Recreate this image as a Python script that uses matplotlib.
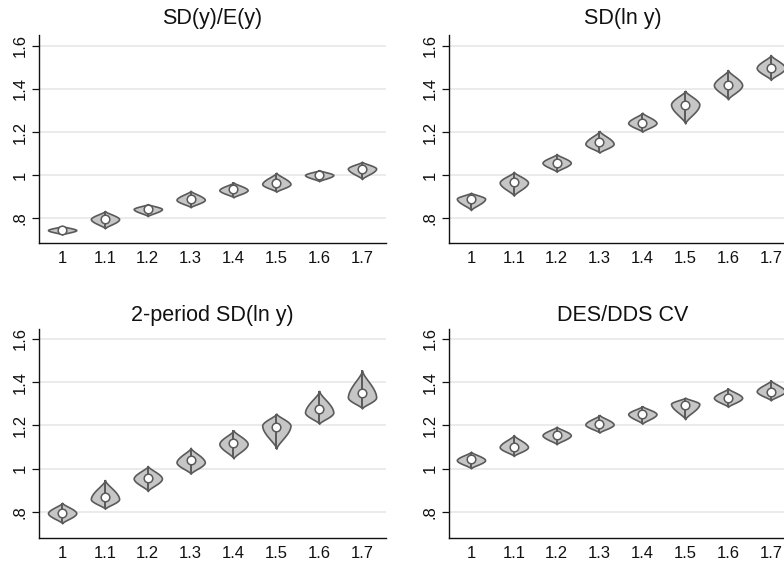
import numpy as np
import matplotlib
matplotlib.use("Agg")
import matplotlib.pyplot as plt

plt.rcParams['font.family'] = ['Liberation Sans', 'DejaVu Sans']

groups = [1.0, 1.1, 1.2, 1.3, 1.4, 1.5, 1.6, 1.7]
tick_labels = ['1', '1.1', '1.2', '1.3', '1.4', '1.5', '1.6', '1.7']
titles = ['SD(y)/E(y)', 'SD(ln y)', '2-period SD(ln y)', 'DES/DDS CV']

# medians, lower tail end, upper tail end, widest point
med_1 = [0.744, 0.795, 0.842, 0.888, 0.933, 0.961, 1.001, 1.028]
lo_1 = [0.724, 0.752, 0.809, 0.850, 0.896, 0.922, 0.971, 0.981]
hi_1 = [0.763, 0.833, 0.865, 0.927, 0.966, 1.011, 1.023, 1.062]
peak_1 = [0.744, 0.795, 0.842, 0.885, 0.930, 0.958, 1.000, 1.030]

med_2 = [0.887, 0.969, 1.057, 1.152, 1.242, 1.326, 1.419, 1.499]
lo_2 = [0.837, 0.904, 1.015, 1.104, 1.201, 1.240, 1.352, 1.442]
hi_2 = [0.918, 1.015, 1.098, 1.205, 1.290, 1.392, 1.488, 1.558]
peak_2 = [0.890, 0.965, 1.057, 1.145, 1.242, 1.328, 1.418, 1.498]

med_3 = [0.797, 0.869, 0.959, 1.040, 1.118, 1.193, 1.278, 1.352]
lo_3 = [0.748, 0.815, 0.897, 0.977, 1.048, 1.093, 1.208, 1.279]
hi_3 = [0.843, 0.948, 1.013, 1.097, 1.178, 1.255, 1.360, 1.455]
peak_3 = [0.795, 0.860, 0.955, 1.030, 1.115, 1.200, 1.260, 1.330]

med_4 = [1.044, 1.102, 1.156, 1.208, 1.252, 1.293, 1.329, 1.356]
lo_4 = [1.002, 1.059, 1.113, 1.167, 1.208, 1.229, 1.286, 1.316]
hi_4 = [1.079, 1.156, 1.195, 1.249, 1.290, 1.329, 1.372, 1.409]
peak_4 = [1.040, 1.100, 1.155, 1.205, 1.253, 1.300, 1.328, 1.358]

panels = [
    (med_1, lo_1, hi_1, peak_1),
    (med_2, lo_2, hi_2, peak_2),
    (med_3, lo_3, hi_3, peak_3),
    (med_4, lo_4, hi_4, peak_4),
]

W, H = 784, 562
fig = plt.figure(figsize=(W / 100, H / 100), dpi=100)

# axes boxes in pixels: left, top, bottom
boxes = [(39, 35, 243), (449, 35, 243), (39, 329, 538), (449, 329, 538)]
xlims = [(0.946, 1.756), (0.9487, 1.7587), (0.946, 1.756), (0.9487, 1.7587)]
ylims = [(0.684, 1.651), (0.684, 1.651), (0.680, 1.646), (0.680, 1.646)]
axw = 347

fill_c = '#c6c6c6'
edge_c = '#5a5a5a'


def profile(lo, hi, peak):
    ys = np.linspace(lo, hi, 120)
    t = np.where(ys < peak, (peak - ys) / max(peak - lo, 1e-6),
                 (ys - peak) / max(hi - peak, 1e-6))
    t = np.clip(t, 0, 1)
    return ys, (1 - t ** 1.8) ** 1.6


for k in range(4):
    left, top, bot = boxes[k]
    ax = fig.add_axes([left / W, (H - bot) / H, axw / W, (bot - top) / H])
    med, lo, hi, peak = panels[k]

    stats = []
    for i in range(len(groups)):
        ys, vals = profile(lo[i], hi[i], peak[i])
        stats.append(dict(coords=ys, vals=vals, mean=med[i], median=med[i],
                          min=lo[i], max=hi[i]))
    parts = ax.violin(stats, positions=groups, widths=0.066,
                      showmeans=False, showextrema=False, showmedians=False)
    for b in parts['bodies']:
        b.set_facecolor(fill_c)
        b.set_edgecolor(edge_c)
        b.set_linewidth(1.2)
        b.set_alpha(1)
        b.set_zorder(3)

    ax.vlines(groups, lo, hi, color=edge_c, lw=1.4, zorder=4)
    ax.plot(groups, med, 'o', ms=6.2, mfc='white', mec=edge_c, mew=1.1, zorder=5)

    ax.set_xlim(*xlims[k])
    ax.set_ylim(*ylims[k])
    ax.set_xticks(groups)
    ax.set_xticklabels(tick_labels)
    ax.set_yticks([0.8, 1.0, 1.2, 1.4, 1.6])
    ax.set_yticklabels(['.8', '1', '1.2', '1.4', '1.6'], rotation=90, va='center')
    ax.tick_params(axis='x', length=0, pad=6, labelsize=12, colors='#111111')
    ax.tick_params(axis='y', length=5, width=0.9, pad=3, labelsize=12,
                   colors='#111111', direction='out')
    ax.grid(axis='y', color='#e8e8e8', lw=1.2, zorder=0)
    ax.set_axisbelow(True)
    for s in ['top', 'right']:
        ax.spines[s].set_visible(False)
    for s in ['left', 'bottom']:
        ax.spines[s].set_color('#111111')
        ax.spines[s].set_linewidth(1.0)
    ax.set_title(titles[k], fontsize=15.5, pad=8 if k < 2 else 6, color='#111111')

fig.savefig('out.png', dpi=100, facecolor='white')
